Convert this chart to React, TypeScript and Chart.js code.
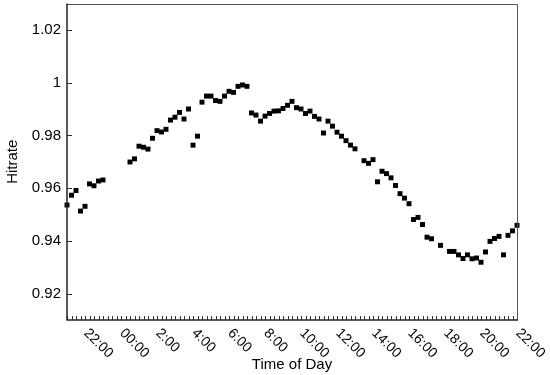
import React, { useEffect, useRef } from "react";
import { Chart, registerables } from "chart.js";

Chart.register(...registerables);

// Hitrate every 15 minutes, starting at 21:00 and ending at 22:00 the next day (null = no sample)
const hitrate: (number | null)[] = [
  0.9536, 0.9573, 0.9591, 0.9513, 0.9531, 0.9616, 0.9609, 0.9627, 0.9631,
  null, null, null, null, null,
  0.9699, 0.9711, 0.9759, 0.9755, 0.9748, 0.9789, 0.9818, 0.9813, 0.9823, 0.9858,
  0.9869, 0.9887, 0.9862, 0.9900, 0.9763, 0.9797, 0.9926, 0.9949, 0.9949, 0.9932,
  0.9929, 0.9949, 0.9967, 0.9963, 0.9986, 0.9991, 0.9986, 0.9885, 0.9877, 0.9854,
  0.9873, 0.9883, 0.9892, 0.9893, 0.9902, 0.9914, 0.9929, 0.9905, 0.9900, 0.9883,
  0.9892, 0.9872, 0.9862, 0.9809, 0.9854, 0.9835, 0.9812, 0.9797, 0.9780, 0.9763,
  0.9749, null, 0.9704, 0.9694, 0.9708, 0.9624, 0.9664, 0.9655, 0.9639, 0.9610,
  0.9579, 0.9562, 0.9541, 0.9481, 0.9489, 0.9462, 0.9414, 0.9408, null, 0.9383,
  null, 0.9360, 0.9360, 0.9347, 0.9333, 0.9347, 0.9332, 0.9335, 0.9319, 0.9358,
  0.9398, 0.9409, 0.9417, 0.9347, 0.9421, 0.9438, 0.9459,
];

const sampleStepHours = 0.25;
const xMinHours = 0;
const xMaxHours = 25;

const yMin = 0.91;
const yMax = 1.03;
const yTicks = [0.92, 0.94, 0.96, 0.98, 1.0, 1.02];

// hours since 21:00 at which labels sit
const xTickHours = [1, 3, 5, 7, 9, 11, 13, 15, 17, 19, 21, 23, 25];
const xTickLabels = [
  "22:00", "00:00", "2:00", "4:00", "6:00", "8:00", "10:00",
  "12:00", "14:00", "16:00", "18:00", "20:00", "22:00",
];

const FONT = '"Liberation Sans", Arial, Helvetica, sans-serif';

const framePlugin = {
  id: "frame",
  afterDraw(chart: any) {
    const { ctx, chartArea: a, scales } = chart;
    const x = scales.x;
    const y = scales.y;
    ctx.save();
    // minor ticks on x (inward)
    ctx.strokeStyle = "#333";
    ctx.lineWidth = 1;
    ctx.beginPath();
    const n = Math.round((xMaxHours - xMinHours) / sampleStepHours);
    for (let i = 0; i <= n; i++) {
      const px = Math.round(x.getPixelForValue(xMinHours + i * sampleStepHours)) + 0.5;
      ctx.moveTo(px, a.bottom);
      ctx.lineTo(px, a.bottom - 4);
    }
    yTicks.forEach((v) => {
      const py = Math.round(y.getPixelForValue(v)) + 0.5;
      ctx.moveTo(a.left, py);
      ctx.lineTo(a.left + 5, py);
    });
    ctx.stroke();

    // box: top and right (grey, thin)
    ctx.strokeStyle = "#555";
    ctx.lineWidth = 1;
    ctx.beginPath();
    ctx.moveTo(a.left, Math.round(a.top) + 0.5);
    ctx.lineTo(a.right + 0.5, Math.round(a.top) + 0.5);
    ctx.lineTo(a.right + 0.5, a.bottom);
    ctx.stroke();
    // left and bottom (dark)
    ctx.strokeStyle = "#222";
    ctx.lineWidth = 1.5;
    ctx.beginPath();
    ctx.moveTo(a.left, a.top);
    ctx.lineTo(a.left, a.bottom);
    ctx.lineTo(a.right + 1, a.bottom);
    ctx.stroke();

    // rotated x labels
    ctx.fillStyle = "#000";
    ctx.font = `14px ${FONT}`;
    ctx.textAlign = "left";
    ctx.textBaseline = "middle";
    xTickHours.forEach((h, k) => {
      const px = x.getPixelForValue(h);
      ctx.save();
      ctx.translate(px + 1, a.bottom + 11);
      ctx.rotate(Math.PI / 4);
      ctx.fillText(xTickLabels[k], 0, 0);
      ctx.restore();
    });
    ctx.restore();
  },
};

export default function App() {
  const ref = useRef<HTMLCanvasElement | null>(null);

  useEffect(() => {
    document.body.style.margin = "0";
    const canvas = ref.current;
    if (!canvas) return;
    const points = hitrate
      .map((v, i) => (v == null ? null : { x: xMinHours + i * sampleStepHours, y: v }))
      .filter((p) => p !== null) as { x: number; y: number }[];

    const chart = new Chart(canvas, {
      type: "scatter",
      data: {
        datasets: [
          {
            label: "Hitrate",
            data: points,
            pointStyle: "rect",
            pointRadius: 3.5,
            pointHoverRadius: 3.5,
            pointBorderWidth: 0,
            pointBackgroundColor: "#000",
            pointBorderColor: "#000",
            showLine: false,
            clip: false as any,
          },
        ],
      },
      options: {
        responsive: false,
        animation: false,
        events: [],
        layout: { padding: { top: 3, right: 33, left: 0, bottom: 0 } },
        plugins: {
          legend: { display: false },
          tooltip: { enabled: false },
          title: { display: false },
        },
        scales: {
          x: {
            type: "linear",
            min: xMinHours,
            max: xMaxHours,
            grid: { display: false, drawTicks: false },
            border: { display: false },
            ticks: { display: false },
            title: {
              display: true,
              text: "Time of Day",
              color: "#000",
              font: { family: FONT, size: 15 },
              padding: { top: 0, bottom: 1 },
            },
            afterFit: (scale: any) => {
              scale.height = 55;
              scale.paddingLeft = 0;
              scale.paddingRight = 0;
            },
          },
          y: {
            type: "linear",
            min: yMin,
            max: yMax,
            grid: { display: false, drawTicks: false },
            border: { display: false },
            afterBuildTicks: (scale: any) => {
              scale.ticks = yTicks.map((v) => ({ value: v }));
            },
            ticks: {
              color: "#000",
              padding: 6,
              font: { family: FONT, size: 15 },
              callback: (v: any) => String(+Number(v).toFixed(2)),
            },
            title: {
              display: true,
              text: "Hitrate",
              color: "#000",
              font: { family: FONT, size: 15 },
              padding: { top: 4, bottom: 0 },
            },
            afterFit: (scale: any) => {
              scale.width = 67;
              scale.paddingTop = 0;
              scale.paddingBottom = 0;
            },
          },
        },
      },
      plugins: [framePlugin],
    });
    return () => chart.destroy();
  }, []);

  return (
    <div style={{ width: 550, height: 375 }}>
      <canvas ref={ref} width={550} height={375} style={{ display: "block" }} />
    </div>
  );
}
